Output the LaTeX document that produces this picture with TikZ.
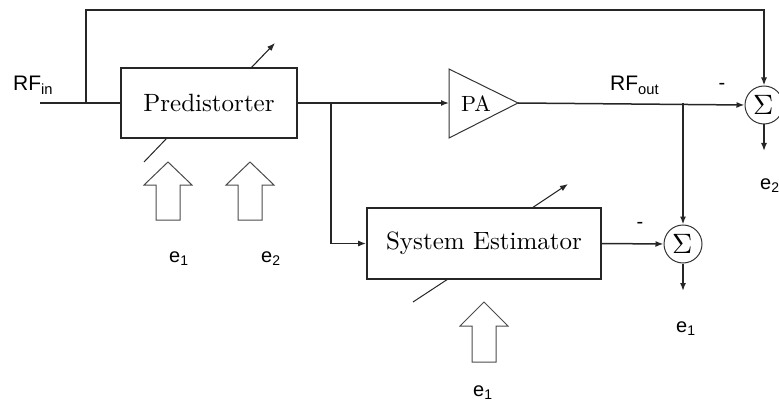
\documentclass[tikz,border=0pt]{standalone}
\usepackage{fontspec}
\newfontfamily\labelfont{Liberation Sans}
\newfontfamily\tenrm{lmroman10-regular}[Extension=.otf]
\newfontfamily\lmmath{latinmodern-math}[Extension=.otf]
\usetikzlibrary{arrows.meta}
\begin{document}
\begin{tikzpicture}[x=1pt,y=-1pt,
  line/.style={line width=1.5pt, draw=black!85},
  arr/.style={line, -{Latex[length=8pt,width=6pt]}},
  blockbox/.style={draw=black!85, line width=1.6pt, rectangle, inner sep=0pt,
    font=\tenrm\fontsize{25}{30}\selectfont},
  sumnode/.style={draw=black!80, line width=1pt, circle, minimum size=38pt, inner sep=0pt,
    font=\lmmath\fontsize{28}{30}\selectfont},
  hollow/.style={draw=black!70, line width=1pt, fill=white},
  slash/.style={draw=black!85, line width=1pt},
  lbl/.style={font=\labelfont\fontsize{20}{24}\selectfont, inner sep=0pt, anchor=base west},
  minus/.style={font=\labelfont\fontsize{20}{24}\selectfont, inner sep=0pt}
]
\useasboundingbox (0,0) rectangle (779,401);

% blocks
\node[blockbox, minimum width=176pt, minimum height=70pt] (pd) at (209,103) {Predistorter};
\node[blockbox, minimum width=234pt, minimum height=71pt] (se) at (484,243.5) {System Estimator};
\draw[draw=black!80, line width=1pt] (449,69) -- (518,103) -- (449,138) -- cycle;
\coordinate (pain) at (449,103);
\coordinate (paout) at (518,103);
\node[font=\tenrm\fontsize{22}{26}\selectfont, inner sep=0pt] (pa) at (476,104) {PA};
\node[sumnode] (s2) at (764,105) {Σ};
\node[sumnode] (s1) at (683,244) {Σ};

% coordinates
\coordinate (rfin) at (40,103);
\coordinate (j1) at (86,103);
\coordinate (t1) at (86,10);
\coordinate (t2) at (764,10);
\coordinate (j2) at (331,103);
\coordinate (j2b) at (331,243.5);
\coordinate (j3) at (683,103);
\coordinate (o2) at (764,151);
\coordinate (o1) at (683,291);

% connectors
\draw[line] (rfin) -- (pd.west);
\draw[arr] (j1) -- (t1) -- (t2) -- (s2.north);
\draw[arr] (pd.east) -- (pain);
\draw[arr] (j2) -- (j2b) -- (se.west);
\draw[arr] (paout) -- (s2.west);
\draw[arr] (j3) -- (s1.north);
\draw[arr] (se.east) -- (s1.west);
\draw[arr] (s2.south) -- (o2);
\draw[arr] (s1.south) -- (o1);

% adjustable arrows and slashes
\draw[line, line width=1.1pt, -{Latex[length=8pt,width=6pt]}] (251,68) -- (275,43);
\draw[slash] (167,138) -- (144,162);
\draw[line, line width=1.1pt, -{Latex[length=8pt,width=6pt]}] (532,208) -- (568,184);
\draw[slash] (448,279) -- (413,302);

% hollow block arrows
\draw[hollow] (168,162) -- (192,185) -- (180,185) -- (180,220) -- (156,220) -- (156,185) -- (144,185) -- cycle;
\draw[hollow] (250,162) -- (274,185) -- (262,185) -- (262,220) -- (238,220) -- (238,185) -- (226,185) -- cycle;
\draw[hollow] (484,302) -- (508,326) -- (496,326) -- (496,362) -- (472,362) -- (472,326) -- (460,326) -- cycle;

% labels
\node[lbl, font=\labelfont\fontsize{21}{25}\selectfont] (lrfin) at (13,91) {RF\textsubscript{in}};
\node[lbl, font=\labelfont\fontsize{21}{25}\selectfont] (lrfout) at (610,91) {RF\textsubscript{out}};
\node[lbl] (le1a) at (169,262) {e\textsubscript{1}};
\node[lbl] (le2a) at (261,262) {e\textsubscript{2}};
\node[lbl] (le1b) at (473,396) {e\textsubscript{1}};
\node[lbl] (le1c) at (676,332) {e\textsubscript{1}};
\node[lbl] (le2c) at (760,189) {e\textsubscript{2}};
\node[minus] (m2) at (722,86) {-};
\node[minus] (m1) at (640,225) {-};
\end{tikzpicture}
\end{document}
